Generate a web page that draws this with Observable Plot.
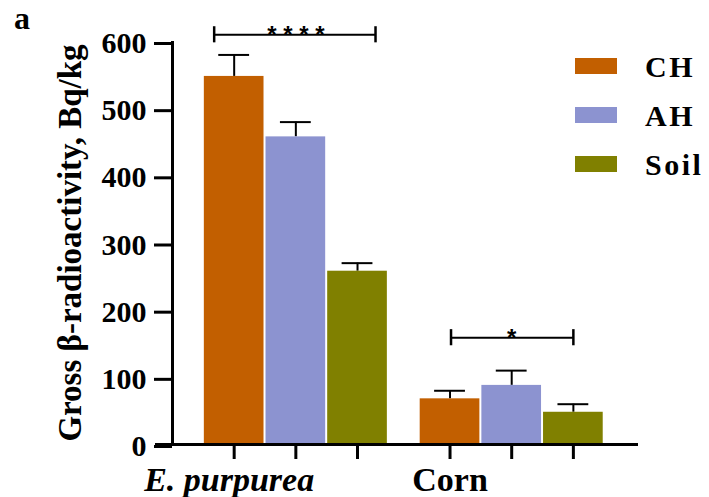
<!DOCTYPE html>
<html><head><meta charset="utf-8">
<script src="https://cdn.jsdelivr.net/npm/d3@7"></script>
<script src="https://cdn.jsdelivr.net/npm/@observablehq/plot@0.6"></script>
<style>
body{margin:0;background:#fff}
#wrap{position:relative;width:709px;height:497px;font-family:"Liberation Serif","Times New Roman",serif;font-weight:bold;color:#000}
#panel{position:absolute;left:14px;top:0px;font-size:32px;line-height:36px}
.leg{position:absolute;left:575px;height:16px;width:42px}
.legt{position:absolute;left:645px;font-size:30px;line-height:30px;letter-spacing:2.5px}
</style></head><body><div id="wrap"><div id="panel">a</div></div>
<script>
const groups = ["E. purpurea", "Corn"];
const series = ["CH", "AH", "Soil"];
const colors = ["#C25F00", "#8C93D0", "#808000"];
const chMean = [548, 68];
const ahMean = [458, 88];
const soilMean = [258, 48];
const chErr = [32, 12];
const ahErr = [22, 22];
const soilErr = [12, 12];
const yTicks = [0, 100, 200, 300, 400, 500, 600];
const sigLabels = ["* * * *", "*"];
const sigY = [610, 159];
const yTitle = "Gross β-radioactivity, Bq/kg";

const means = [chMean, ahMean, soilMean];
const errs = [chErr, ahErr, soilErr];
const groupGap = 3.5;
const table = groups.flatMap((g, gi) => series.map((s, si) => ({
  group: g, series: s, mean: means[si][gi], err: errs[si][gi], pos: gi * groupGap + si
})));
const tickPos = table.map(d => d.pos);
const brackets = groups.map((g, gi) => ({group: g, label: sigLabels[gi], y: sigY[gi],
  x1: gi * groupGap, x2: gi * groupGap + 2, xm: gi * groupGap + 1}));
const overhang = [[20, 18], [-1, 0]];
const serif = '"Liberation Serif","Times New Roman",serif';

const bracketMarks = brackets.flatMap((b, i) => [
  Plot.ruleY([b], {y: "y", x1: "x1", x2: "x2", insetLeft: -overhang[i][0], insetRight: -overhang[i][1], strokeWidth: 2}),
  Plot.ruleX([b], {x: "x1", y1: d => d.y - 12, y2: d => d.y + 12, dx: -overhang[i][0], strokeWidth: 2.5}),
  Plot.ruleX([b], {x: "x2", y1: d => d.y - 12, y2: d => d.y + 12, dx: overhang[i][1], strokeWidth: 2.5}),
  Plot.text([b], {x: "xm", y: "y", text: "label", lineAnchor: "bottom", dy: 8, fontSize: 24,
    fontFamily: '"Liberation Sans",Arial,sans-serif', fontWeight: "bold"})
]);

const chart = Plot.plot({
  width: 709, height: 497,
  marginLeft: 172, marginRight: 71, marginTop: 41, marginBottom: 53,
  style: {fontFamily: serif, fontWeight: "bold", fontSize: "30px", overflow: "visible"},
  x: {type: "linear", domain: [-1.0, 6.556]},
  y: {domain: [0, 600]},
  color: {domain: series, range: colors},
  marks: [
    Plot.ruleX(table, {x: "pos", y1: "mean", y2: d => d.mean + d.err, strokeWidth: 2}),
    Plot.ruleY(table, {y: d => d.mean + d.err, x1: d => d.pos - 0.25, x2: d => d.pos + 0.25, strokeWidth: 2}),
    Plot.rectY(table, {x1: d => d.pos - 0.5, x2: d => d.pos + 0.5, y1: 0, y2: "mean", fill: "series", insetLeft: 1, insetRight: 1}),
    Plot.axisY({ticks: yTicks, tickSize: 18, tickPadding: 8, strokeWidth: 3, fontSize: 30, label: null, dy: 2}),
    Plot.axisX({ticks: tickPos, tickSize: 15, tickFormat: () => "", strokeWidth: 3, label: null}),
    Plot.ruleX([-1.0], {strokeWidth: 3}),
    Plot.ruleY([0], {insetLeft: -17, strokeWidth: 3}),
    Plot.text(table.filter(d => d.group === groups[0] && d.series === series[0]), {x: "pos", y: 0, text: "group", fontSize: 34, fontStyle: "italic", fontWeight: "bold", lineAnchor: "bottom", dy: 46, dx: -5}),
    Plot.text(table.filter(d => d.group === groups[1] && d.series === series[0]), {x: "pos", y: 0, text: "group", fontSize: 34, fontWeight: "bold", lineAnchor: "bottom", dy: 46}),
    Plot.text([yTitle], {frameAnchor: "left", textAnchor: "middle", text: d => d, rotate: -90, dx: -92, lineAnchor: "bottom", fontSize: 33, fontWeight: "bold"}),
    ...bracketMarks
  ]
});
const wrap = document.getElementById("wrap");
wrap.appendChild(chart);
series.forEach((s, i) => {
  const sw = document.createElement("div");
  sw.className = "leg"; sw.style.top = (58 + i * 49) + "px"; sw.style.background = colors[i];
  wrap.appendChild(sw);
  const t = document.createElement("div");
  t.className = "legt"; t.style.top = (52 + i * 49) + "px"; t.textContent = s;
  wrap.appendChild(t);
});
</script></body></html>
